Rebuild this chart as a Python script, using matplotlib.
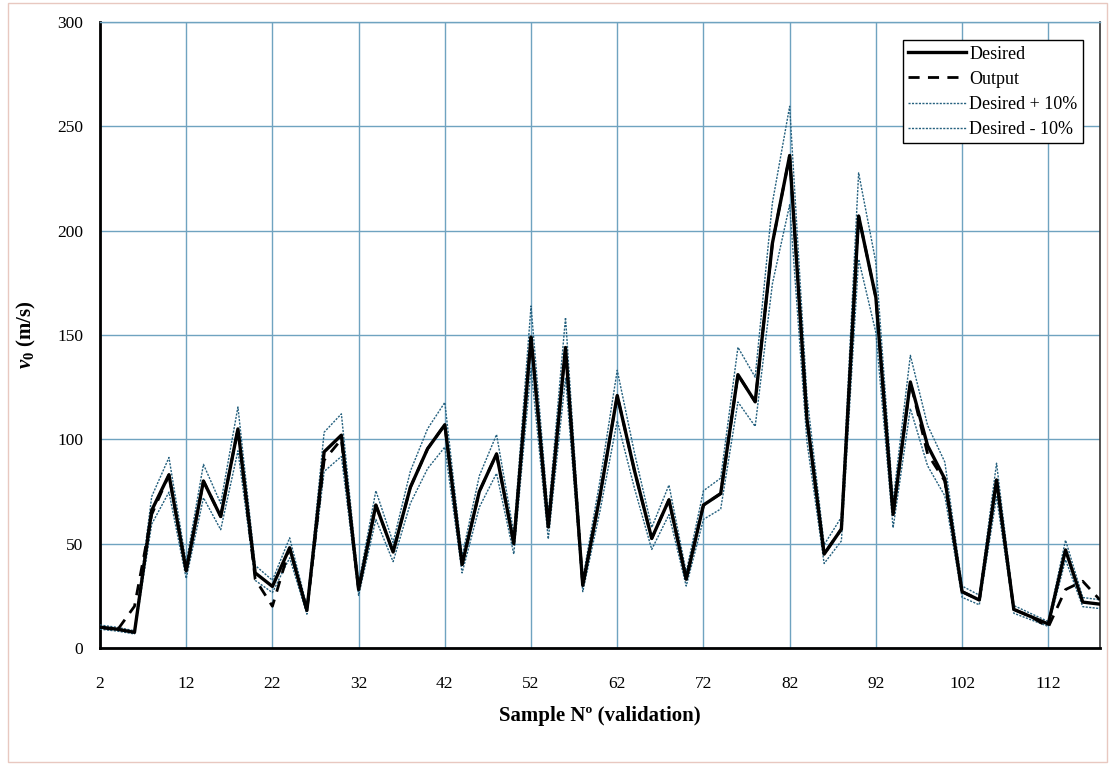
import numpy as np
import matplotlib
matplotlib.use("Agg")
import matplotlib.pyplot as plt
from matplotlib.patches import Rectangle

# validation samples (every other sample number)
samples = [2, 4, 6, 8, 10, 12, 14, 16, 18, 20,
           22, 24, 26, 28, 30, 32, 34, 36, 38, 40,
           42, 44, 46, 48, 50, 52, 54, 56, 58, 60,
           62, 64, 66, 68, 70, 72, 74, 76, 78, 80,
           82, 84, 86, 88, 90, 92, 94, 96, 98, 100,
           102, 104, 106, 108, 110, 112, 114, 116, 118]

desired = [10, 9, 7.5, 66, 83, 37, 80, 63, 105, 36,
           29.5, 48, 18, 94, 102, 28, 68.5, 46, 77, 95.5,
           107, 40, 75, 93, 50, 149, 58, 144, 30, 73,
           121, 85, 52.5, 71, 33, 68.5, 74, 131, 118, 194,
           236, 110, 45, 57, 207, 168, 64, 127.5, 97, 81,
           27, 23, 80.5, 18.5, 15, 11.5, 47, 22, 21]

output = [10, 8.5, 20, 64, 83, 37, 80, 63, 105, 33,
          20, 48, 18, 90, 100, 28, 68.5, 46, 77, 95.5,
          107, 40, 75, 93, 50, 149, 58, 144, 30, 73,
          121, 85, 52.5, 71, 33, 68.5, 74, 131, 118, 194,
          236, 110, 45, 57, 207, 168, 64, 127.5, 93, 80,
          27, 23, 80.5, 18.5, 15, 10, 28, 32, 23]

x_ticks = [2, 12, 22, 32, 42, 52, 62, 72, 82, 92, 102, 112]
y_ticks = [0, 50, 100, 150, 200, 250, 300]

x = np.array(samples)
d = np.array(desired)
upper = d * 1.1
lower = d * 0.9

plt.rcParams['font.family'] = ['Liberation Serif', 'DejaVu Serif']
plt.rcParams['mathtext.fontset'] = 'custom'
plt.rcParams['mathtext.it'] = 'Liberation Serif:italic:bold'
plt.rcParams['mathtext.rm'] = 'Liberation Serif:bold'

fig = plt.figure(figsize=(11.15, 7.65), dpi=100)
ax = fig.add_axes([100 / 1115, 1 - 648 / 765, 1000 / 1115, 626 / 765])

band_color = '#24607e'
ax.plot(x, upper, color=band_color, lw=1.0, ls=(0, (1.5, 1)), label='Desired + 10%', zorder=3)
ax.plot(x, lower, color=band_color, lw=1.0, ls=(0, (1.5, 1)), label='Desired - 10%', zorder=3)
ax.plot(x, output, color='black', lw=2.0, ls=(0, (4, 3)), label='Output', zorder=4)
ax.plot(x, desired, color='black', lw=2.4, label='Desired', zorder=5)

ax.set_xlim(2, 118)
ax.set_ylim(0, 300)
ax.set_xticks(x_ticks)
ax.set_yticks(y_ticks)
ax.tick_params(axis='both', length=0, labelsize=12.5)
ax.tick_params(axis='x', pad=20)
ax.tick_params(axis='y', pad=12)
ax.grid(True, color='#6fa3c0', lw=1.0, zorder=0)

for side in ['left', 'bottom']:
    ax.spines[side].set_linewidth(2.0)
    ax.spines[side].set_color('black')
ax.spines['top'].set_color('#6fa3c0')
ax.spines['top'].set_linewidth(1.0)
ax.spines['right'].set_color('#333333')
ax.spines['right'].set_linewidth(1.2)

ax.set_xlabel('Sample Nº (validation)', fontsize=15, fontweight='bold', labelpad=10)
ax.set_ylabel(r'$v_0$ (m/s)', fontsize=15, fontweight='bold', labelpad=14)

handles, labels = ax.get_legend_handles_labels()
order = [3, 2, 0, 1]
leg = ax.legend([handles[i] for i in order], [labels[i] for i in order],
                loc='upper right', bbox_to_anchor=(0.983, 0.971),
                fontsize=13, fancybox=False, framealpha=1,
                edgecolor='black', handlelength=3.2, handletextpad=0.2,
                borderpad=0.3, labelspacing=0.45, borderaxespad=0)
leg.get_frame().set_linewidth(1.0)

# faint outer chart-area border
fig.patches.append(Rectangle((8 / 1115, 3 / 765), 1 - 16 / 1115, 1 - 6 / 765,
                             transform=fig.transFigure, fill=False,
                             edgecolor='#e8c8c0', lw=1.0))

fig.savefig('out.png', dpi=100)
